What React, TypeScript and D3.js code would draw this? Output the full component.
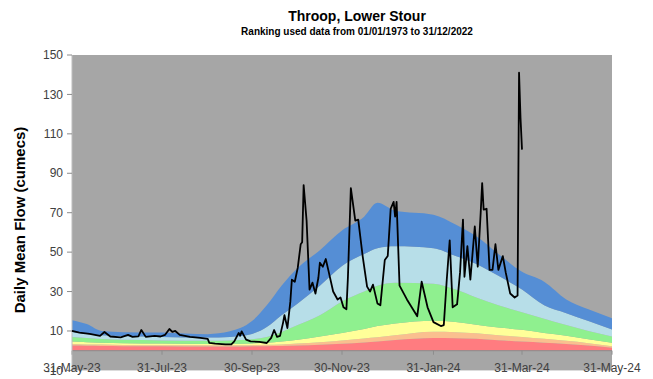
import React from "react";
import * as d3 from "d3";

const W = 653;
const H = 379;

const titleText = "Throop, Lower Stour";
const subtitleText = "Ranking used data from 01/01/1973 to 31/12/2022";
const yAxisTitle = "Daily Mean Flow (cumecs)";
const yTicks = [-10, 10, 30, 50, 70, 90, 110, 130, 150];
const xTickDates = ["2023-05-31", "2023-07-31", "2023-09-30", "2023-11-30", "2024-01-31", "2024-03-31", "2024-05-31"];
const xTickLabels = ["31-May-23", "31-Jul-23", "30-Sep-23", "30-Nov-23", "31-Jan-24", "31-Mar-24", "31-May-24"];

// Ranking band upper boundaries
const bandDates = [
  "2023-05-31", "2023-06-10", "2023-06-20", "2023-07-05", "2023-07-31", "2023-08-31", "2023-09-15",
  "2023-09-30", "2023-10-10", "2023-10-20", "2023-10-31", "2023-11-15", "2023-11-30", "2023-12-15",
  "2023-12-24", "2024-01-05", "2024-01-31", "2024-02-15", "2024-02-29", "2024-03-15", "2024-03-31",
  "2024-04-15", "2024-04-30", "2024-05-15", "2024-05-31",
];
const exLowTop = [2.6, 2.5, 2.4, 2.3, 2.2, 2.1, 2.1, 2.2, 2.3, 2.4, 2.6, 3.0, 3.5, 4.2, 4.7, 5.4, 6.4, 6.3, 6.0, 5.3, 4.6, 4.0, 3.4, 2.6, 1.5];
const notLowTop = [3.4, 3.2, 3.1, 2.9, 2.8, 2.7, 2.7, 2.8, 3.0, 3.2, 3.6, 4.3, 5.2, 6.2, 6.8, 7.8, 9.6, 9.4, 8.8, 7.8, 7.0, 6.0, 5.0, 3.8, 2.2];
const belowTop = [4.6, 4.3, 4.0, 3.8, 3.6, 3.4, 3.5, 3.7, 4.0, 4.6, 5.5, 7.2, 9.0, 11, 12.5, 13.8, 15.2, 14.6, 13.2, 11.8, 10.6, 9.0, 7.6, 5.8, 4.0];
const normalTop = [7.0, 6.4, 5.9, 5.5, 5.2, 5.0, 5.2, 5.8, 7.0, 9.5, 13, 18, 25, 30, 33, 34.5, 34, 31, 27, 23, 19.5, 16.2, 13, 10, 7.2];
const aboveTop = [9.5, 8.5, 7.8, 7.3, 7.0, 6.7, 7.0, 8.5, 12, 18, 24, 33, 43, 49, 52, 53, 52, 48, 44, 38, 31, 23, 19, 15, 10.7];
const notHighTop = [15.5, 13.5, 10, 9.4, 9.2, 8.4, 9.8, 15, 23, 33, 42, 51, 61, 68, 75, 71, 69, 64, 58, 49, 40, 35, 26, 21, 16.5];

// Daily mean flow
const flowDates = [
  "2023-05-31", "2023-06-05", "2023-06-12", "2023-06-19", "2023-06-22", "2023-06-26", "2023-07-03", "2023-07-08",
  "2023-07-11", "2023-07-15", "2023-07-17", "2023-07-20", "2023-07-26", "2023-07-30", "2023-08-02", "2023-08-05",
  "2023-08-07", "2023-08-09", "2023-08-12", "2023-08-19", "2023-08-26", "2023-08-31", "2023-09-01", "2023-09-05",
  "2023-09-12", "2023-09-16", "2023-09-18", "2023-09-21", "2023-09-22", "2023-09-23", "2023-09-26", "2023-09-29",
  "2023-10-05", "2023-10-10", "2023-10-13", "2023-10-15", "2023-10-17", "2023-10-19", "2023-10-21", "2023-10-22",
  "2023-10-24", "2023-10-26", "2023-10-27", "2023-10-29", "2023-10-31", "2023-11-02", "2023-11-03", "2023-11-04",
  "2023-11-06", "2023-11-08", "2023-11-10", "2023-11-12", "2023-11-14", "2023-11-15", "2023-11-17", "2023-11-19",
  "2023-11-21", "2023-11-24", "2023-11-27", "2023-11-29", "2023-12-01", "2023-12-03", "2023-12-04", "2023-12-06",
  "2023-12-09", "2023-12-11", "2023-12-14", "2023-12-17", "2023-12-19", "2023-12-21", "2023-12-24", "2023-12-26",
  "2023-12-29", "2023-12-31", "2024-01-02", "2024-01-04", "2024-01-05", "2024-01-06", "2024-01-08", "2024-01-13",
  "2024-01-20", "2024-01-23", "2024-01-27", "2024-01-31", "2024-02-05", "2024-02-07", "2024-02-09", "2024-02-11",
  "2024-02-13", "2024-02-16", "2024-02-18", "2024-02-20", "2024-02-21", "2024-02-23", "2024-02-25", "2024-02-28",
  "2024-03-01", "2024-03-03", "2024-03-04", "2024-03-05", "2024-03-07", "2024-03-09", "2024-03-11", "2024-03-13",
  "2024-03-15", "2024-03-18", "2024-03-20", "2024-03-23", "2024-03-26", "2024-03-28", "2024-03-29", "2024-03-30",
  "2024-03-31",
];
const flowValues = [
  10, 9.2, 8.5, 7.5, 9.5, 7.2, 6.8, 8.0,
  7.0, 7.3, 10.5, 7.0, 7.5, 7.2, 8.0, 11,
  9.5, 10, 8.0, 7.0, 6.5, 6.0, 4.0, 3.6,
  3.2, 3.2, 4.7, 9.0, 7.6, 9.8, 5.6, 4.7,
  4.5, 3.9, 6.5, 10.5, 7.0, 7.5, 14, 18,
  11.5, 25, 36, 35, 42, 54, 55, 84,
  66, 31, 34.5, 29, 37, 44.6, 42.6, 46.5,
  40, 30, 26, 27, 22, 21, 37, 82.5,
  66, 66.5, 48, 32.5, 30, 33.5, 24, 23,
  46, 48, 72, 75.5, 68, 75.5, 33, 26,
  17.5, 35, 22, 14.5, 12.5, 13, 36, 56,
  22, 23.5, 39.6, 66.5, 37.5, 53, 36, 63,
  42.6, 70, 85, 71.6, 72, 41, 41, 54,
  41, 48, 39.6, 29, 27, 28, 141, 118,
  102,
];

const colors = {
  bg: "#a6a6a6",
  exLow: "#ff7c80",
  notLow: "#fabf8f",
  below: "#ffff99",
  normal: "#8ff08f",
  above: "#b7dee8",
  notHigh: "#558ed5",
};

export default function App() {
  const parse = d3.timeParse("%Y-%m-%d");
  const x = d3.scaleTime().domain([parse("2023-05-31")!, parse("2024-05-31")!]).range([72, 612]);
  const y = d3.scaleLinear().domain([-10, 150]).range([370.4, 55]);

  const bd = bandDates.map((s) => parse(s)!);
  const layers: [number[] | null, number[], string][] = [
    [null, exLowTop, colors.exLow],
    [exLowTop, notLowTop, colors.notLow],
    [notLowTop, belowTop, colors.below],
    [belowTop, normalTop, colors.normal],
    [normalTop, aboveTop, colors.above],
    [aboveTop, notHighTop, colors.notHigh],
  ];
  const area = d3
    .area<number>()
    .x((i) => x(bd[i]))
    .curve(d3.curveMonotoneX);

  const idx = bd.map((_, i) => i);
  const line = d3
    .line<number>()
    .x((i) => x(parse(flowDates[i])!))
    .y((i) => y(flowValues[i]))
    .curve(d3.curveLinear);

  const font = "'Liberation Sans', Arial, sans-serif";

  return (
    <svg width={W} height={H} style={{ position: "absolute", left: 0, top: 0, background: "#fff" }} fontFamily={font}>
      <rect x={72} y={y(150)} width={540} height={y(-10) - y(150)} fill={colors.bg} />
      {layers.map(([lo, hi, c], k) => (
        <path
          key={k}
          d={area.y0((i) => y(lo ? lo[i] : 0)).y1((i) => y(hi[i]))(idx) || ""}
          fill={c}
        />
      ))}
      <line x1={72} x2={612} y1={y(0)} y2={y(0)} stroke="#8c8c8c" strokeWidth={1} />
      {xTickDates.map((s) => (
        <line key={s} x1={x(parse(s)!)} x2={x(parse(s)!)} y1={y(0)} y2={y(0) + 4} stroke="#8c8c8c" />
      ))}
      <line x1={72} x2={72} y1={y(150)} y2={y(-10)} stroke="#bdbdbd" strokeWidth={1} />
      {yTicks.map((t) => (
        <g key={t}>
          <line x1={67} x2={72} y1={y(t)} y2={y(t)} stroke="#8c8c8c" />
          <text x={63} y={y(t)} dy="0.35em" textAnchor="end" fontSize={12} fill="#404040">
            {t}
          </text>
        </g>
      ))}
      <path
        d={line(flowValues.map((_, i) => i)) || ""}
        fill="none"
        stroke="#000"
        strokeWidth={1.8}
        strokeLinejoin="round"
      />
      {xTickDates.map((s, i) => (
        <text key={s} x={x(parse(s)!)} y={372} textAnchor="middle" fontSize={12} fill="#404040">
          {xTickLabels[i]}
        </text>
      ))}
      <text x={357} y={21} textAnchor="middle" fontSize={14} fontWeight="bold" fill="#000">
        {titleText}
      </text>
      <text x={357} y={35} textAnchor="middle" fontSize={10} fontWeight="bold" fill="#000">
        {subtitleText}
      </text>
      <text
        transform={`translate(25, ${220}) rotate(-90)`}
        textAnchor="middle"
        fontSize={15}
        fontWeight="bold"
        fill="#000"
      >
        {yAxisTitle}
      </text>
    </svg>
  );
}
